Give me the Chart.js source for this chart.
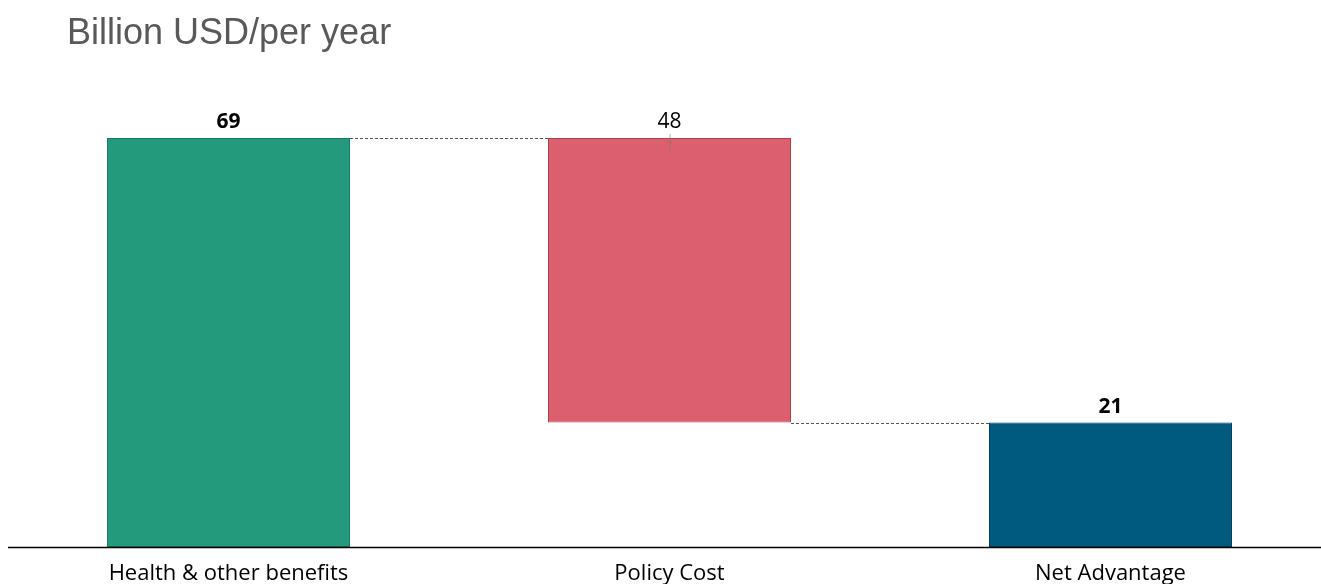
<!DOCTYPE html>
<html>
<head>
<meta charset="utf-8">
<script src="https://cdn.jsdelivr.net/npm/chart.js@4/dist/chart.umd.min.js"></script>
<style>
  html, body { margin: 0; padding: 0; background: #fff; overflow: hidden; }
  #wrap { position: relative; width: 1340px; height: 584px; }
</style>
</head>
<body>
<div id="wrap"><canvas id="chart"></canvas></div>
<script>
var categories = ["Health & other benefits", "Policy Cost", "Net Advantage"];
var amounts = [69, 48, 21];
var steps = ["total", "decrease", "total"];
var barColors = ["#229a7b", "#dc5f6f", "#005a80"];
var borderColors = ["#1b7a61", "#a8434f", "#003f5c"];
var boldLabel = [true, false, true];

// floating ranges for the waterfall: totals start at zero, decreases hang from the running level
var ranges = [];
var level = 0;
for (var i = 0; i < amounts.length; i++) {
  if (steps[i] === "total") {
    ranges.push([0, amounts[i]]);
    level = amounts[i];
  } else {
    ranges.push([level - amounts[i], level]);
    level = level - amounts[i];
  }
}

var waterfallExtras = {
  id: "waterfallExtras",
  afterDatasetsDraw: function (chart) {
    var ctx = chart.ctx;
    var meta = chart.getDatasetMeta(0);
    var y = chart.scales.y;
    ctx.save();

    // dashed connectors between neighbouring bars
    ctx.strokeStyle = "#555";
    ctx.lineWidth = 1;
    ctx.setLineDash([3, 2]);
    for (var i = 0; i < meta.data.length - 1; i++) {
      var a = meta.data[i], b = meta.data[i + 1];
      var lvl = steps[i] === "total" ? ranges[i][1] : ranges[i][0];
      var py = Math.round(y.getPixelForValue(lvl)) + 0.5;
      ctx.beginPath();
      ctx.moveTo(a.x + a.width / 2, py);
      ctx.lineTo(b.x - b.width / 2, py);
      ctx.stroke();
    }
    ctx.setLineDash([]);

    // value labels above each bar
    ctx.fillStyle = "#000";
    ctx.textAlign = "center";
    ctx.textBaseline = "alphabetic";
    meta.data.forEach(function (bar, i) {
      ctx.font = (boldLabel[i] ? "bold " : "") + "21px 'Open Sans'";
      var top = y.getPixelForValue(ranges[i][1]);
      ctx.fillText(String(amounts[i]), bar.x, top - 10);
      if (steps[i] === "decrease") {
        ctx.strokeStyle = "rgba(120,120,120,0.6)";
        ctx.beginPath();
        ctx.moveTo(bar.x + 0.5, top - 4);
        ctx.lineTo(bar.x + 0.5, top + 12);
        ctx.stroke();
      }
    });

    // axis baseline
    var area = chart.chartArea;
    ctx.strokeStyle = "#000";
    ctx.lineWidth = 1.5;
    ctx.beginPath();
    ctx.moveTo(area.left, area.bottom + 0.5);
    ctx.lineTo(1321, area.bottom + 0.5);
    ctx.stroke();

    // heading
    ctx.fillStyle = "#595959";
    ctx.textAlign = "left";
    ctx.font = "36px 'Liberation Sans'";
    ctx.fillText("Billion USD/per year", 67, 44);
    ctx.restore();
  }
};

new Chart(document.getElementById("chart"), {
  type: "bar",
  data: {
    labels: categories,
    datasets: [{
      data: ranges,
      backgroundColor: barColors,
      borderColor: borderColors,
      borderWidth: 1,
      borderSkipped: false,
      categoryPercentage: 1,
      barPercentage: 0.551
    }]
  },
  options: {
    responsive: true,
    maintainAspectRatio: false,
    animation: false,
    layout: { padding: { left: 8, right: 9, top: 138, bottom: 0 } },
    plugins: { legend: { display: false }, tooltip: { enabled: false } },
    scales: {
      x: {
        grid: { display: false, drawTicks: false },
        border: { display: false },
        ticks: { color: "#000", padding: 14, font: { family: "'Open Sans'", size: 22 } },
        afterFit: function (scale) { scale.height = 37; }
      },
      y: { display: false, min: 0, max: 69 }
    }
  },
  plugins: [waterfallExtras]
});
</script>
</body>
</html>
